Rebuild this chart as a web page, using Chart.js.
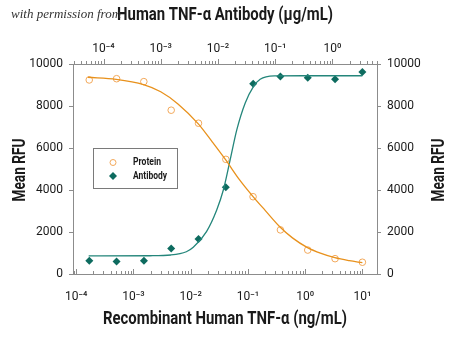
<!DOCTYPE html>
<html>
<head>
<meta charset="utf-8">
<script src="https://cdn.jsdelivr.net/npm/chart.js@4.4.0/dist/chart.umd.min.js"></script>
<style>
  body { margin: 0; background: #fff; }
  #wrap { position: relative; width: 450px; height: 339px; }
  #credit { position: absolute; left: 11px; top: 6px; font: italic 13px 'Liberation Serif', serif; color: #333; }
</style>
</head>
<body>
<div id="wrap">
  <canvas id="tnfChart" width="450" height="339"></canvas>
  <div id="credit">with permission from</div>
</div>
<script>
// recombinant protein, 3-fold dilutions (ng/mL) and mean RFU
const proteinConc = [0.000169, 0.000508, 0.00152, 0.00457, 0.0137, 0.0412, 0.123, 0.370, 1.11, 3.33, 10];
const proteinRfu = [9240, 9300, 9160, 7800, 7180, 5460, 3680, 2100, 1140, 730, 560];

// antibody, 3-fold dilutions (ug/mL) and mean RFU
const antibodyConc = [0.0000565, 0.000169, 0.000508, 0.00152, 0.00457, 0.0137, 0.0412, 0.123, 0.370, 1.11, 3.33];
const antibodyRfu = [630, 590, 630, 1220, 1670, 4130, 9060, 9400, 9350, 9270, 9620];

// fitted curves
const proteinFitConc = [0.00016, 0.0005, 0.0015, 0.003, 0.006, 0.0136, 0.024, 0.041, 0.07, 0.122, 0.2, 0.36, 0.6, 1.08, 1.9, 3.3, 5.9, 10];
const proteinFitRfu = [9370, 9270, 9020, 8680, 8100, 7150, 6280, 5430, 4520, 3700, 3030, 2250, 1720, 1270, 980, 775, 635, 540];
const antibodyFitConc = [0.000055, 0.00065, 0.0015, 0.0028, 0.0037, 0.0063, 0.0095, 0.0124, 0.0163, 0.0213, 0.0298, 0.0416, 0.0545, 0.097, 0.3, 1, 3.33];
const antibodyFitRfu = [860, 870, 905, 1060, 1270, 2020, 3050, 4000, 5430, 6860, 8130, 8920, 9270, 9430, 9440, 9440, 9440];

// tick labels
const decadeExp = [-4, -3, -2, -1, 0, 1];
const decadeLabels = ['10⁻⁴', '10⁻³', '10⁻²', '10⁻¹', '10⁰', '10¹'];
const rfuTicks = [0, 2000, 4000, 6000, 8000, 10000];

const bottomTitle = 'Recombinant Human TNF-α (ng/mL)';
const topTitle = 'Human TNF-α Antibody (μg/mL)';
const yTitle = 'Mean RFU';

const orange = '#e8911c';
const orangeLight = '#f2a85a';
const teal = '#24867b';
const tealDark = '#0d6b5f';
const axisGray = '#8c8c8c';
const textColor = '#1a1a1a';
const sans = "Roboto, 'Liberation Sans', sans-serif";

const toPoints = (xs, ys) => xs.map((x, i) => ({ x: x, y: ys[i] }));

// 1..9 x 10^n between min and max
function logTicks(min, max) {
  const out = [];
  for (let e = -6; e <= 2; e++) {
    for (let k = 1; k <= 9; k++) {
      const v = parseFloat(k + 'e' + e);
      if (v >= min && v <= max) out.push({ value: v });
    }
  }
  return out;
}

function decadeLabel(v) {
  const e = Math.round(Math.log10(v));
  const i = decadeExp.indexOf(e);
  return (i >= 0 && Math.abs(v - Math.pow(10, e)) < v * 1e-9) ? decadeLabels[i] : '';
}

// the original uses a condensed face, so squeeze text to its width
function squeezeText(ctx, text, x, y, width, angle, align) {
  ctx.save();
  ctx.translate(x, y);
  ctx.rotate(angle);
  ctx.scale(width / ctx.measureText(text).width, 1);
  ctx.textAlign = align;
  ctx.textBaseline = 'middle';
  ctx.fillText(text, 0, 0);
  ctx.restore();
}

// small tick marks on both log axes, pointing up, decades longer
const tickMarks = {
  id: 'tickMarks',
  afterDraw(chart) {
    const ctx = chart.ctx;
    const area = chart.chartArea;
    ctx.save();
    ctx.strokeStyle = axisGray;
    ctx.lineWidth = 1;
    ['x', 'x2'].forEach(id => {
      const s = chart.scales[id];
      const base = id === 'x' ? area.bottom : area.top;
      s.ticks.forEach(t => {
        const px = Math.round(s.getPixelForValue(t.value)) + 0.5;
        const len = decadeLabel(t.value) ? 5 : 3;
        ctx.beginPath();
        ctx.moveTo(px, base);
        ctx.lineTo(px, base - len);
        ctx.stroke();
      });
    });
    ctx.restore();
  }
};

// axis titles
const axisTitles = {
  id: 'axisTitles',
  afterDraw(chart) {
    const ctx = chart.ctx;
    const area = chart.chartArea;
    const midX = (area.left + area.right) / 2;
    const midY = (area.top + area.bottom) / 2 + 1;
    ctx.save();
    ctx.fillStyle = textColor;
    ctx.font = 'bold 18px ' + sans;
    squeezeText(ctx, bottomTitle, midX, 319, 244, 0, 'center');
    squeezeText(ctx, topTitle, midX, 15, 216, 0, 'center');
    squeezeText(ctx, yTitle, 20, midY, 63, -Math.PI / 2, 'center');
    squeezeText(ctx, yTitle, 439, midY, 63, -Math.PI / 2, 'center');
    ctx.restore();
  }
};

// boxed legend inside the plot
const boxLegend = {
  id: 'boxLegend',
  afterDraw(chart) {
    const ctx = chart.ctx;
    ctx.save();
    ctx.strokeStyle = '#7a7a7a';
    ctx.lineWidth = 1;
    ctx.strokeRect(93.5, 148.5, 84, 40);

    ctx.strokeStyle = orangeLight;
    ctx.beginPath();
    ctx.arc(113, 162.5, 3, 0, Math.PI * 2);
    ctx.stroke();

    ctx.fillStyle = tealDark;
    ctx.beginPath();
    ctx.moveTo(113, 172);
    ctx.lineTo(117, 176);
    ctx.lineTo(113, 180);
    ctx.lineTo(109, 176);
    ctx.closePath();
    ctx.fill();

    ctx.fillStyle = textColor;
    ctx.font = 'bold 11px ' + sans;
    squeezeText(ctx, 'Protein', 133, 162.5, 28, 0, 'left');
    squeezeText(ctx, 'Antibody', 133, 176, 34, 0, 'left');
    ctx.restore();
  }
};

const logAxis = (position, min, max) => ({
  type: 'logarithmic',
  position: position,
  min: min,
  max: max,
  afterBuildTicks: s => { s.ticks = logTicks(s.min, s.max); },
  afterFit: s => { s.height = position === 'bottom' ? 65 : 64; },
  grid: { display: false },
  border: { display: true, color: axisGray, width: 1 },
  ticks: {
    autoSkip: false,
    maxRotation: 0,
    padding: position === 'bottom' ? 8 : 0,
    color: textColor,
    font: { family: sans, size: 12 },
    callback: v => decadeLabel(v)
  }
});

const rfuAxis = position => ({
  type: 'linear',
  position: position,
  min: 0,
  max: 10000,
  afterBuildTicks: s => { s.ticks = rfuTicks.map(v => ({ value: v })); },
  afterFit: s => { s.width = 73; },
  grid: { drawOnChartArea: false, tickLength: 4, color: axisGray },
  border: { display: true, color: axisGray, width: 1 },
  ticks: {
    padding: 6,
    color: textColor,
    font: { family: sans, size: 12 },
    callback: v => String(v)
  }
});

new Chart(document.getElementById('tnfChart'), {
  type: 'scatter',
  data: {
    datasets: [
      {
        label: 'Protein fit',
        data: toPoints(proteinFitConc, proteinFitRfu),
        xAxisID: 'x',
        yAxisID: 'y',
        showLine: true,
        cubicInterpolationMode: 'monotone',
        borderColor: orange,
        borderWidth: 1.3,
        pointRadius: 0
      },
      {
        label: 'Antibody fit',
        data: toPoints(antibodyFitConc, antibodyFitRfu),
        xAxisID: 'x2',
        yAxisID: 'y',
        showLine: true,
        cubicInterpolationMode: 'monotone',
        borderColor: teal,
        borderWidth: 1.3,
        pointRadius: 0
      },
      {
        label: 'Protein',
        data: toPoints(proteinConc, proteinRfu),
        xAxisID: 'x',
        yAxisID: 'y',
        pointStyle: 'circle',
        pointRadius: 3.3,
        borderWidth: 1,
        borderColor: orangeLight,
        backgroundColor: 'rgba(255,255,255,0)'
      },
      {
        label: 'Antibody',
        data: toPoints(antibodyConc, antibodyRfu),
        xAxisID: 'x2',
        yAxisID: 'y',
        pointStyle: 'rectRot',
        pointRadius: 4,
        borderWidth: 0,
        backgroundColor: tealDark
      }
    ]
  },
  options: {
    responsive: false,
    animation: false,
    layout: { padding: 0 },
    scales: {
      x: logAxis('bottom', 8.8e-5, 18),
      x2: logAxis('top', 2.93e-5, 6),
      y: rfuAxis('left'),
      y2: rfuAxis('right')
    },
    plugins: {
      legend: { display: false },
      tooltip: { enabled: false }
    }
  },
  plugins: [tickMarks, axisTitles, boxLegend]
});
</script>
</body>
</html>
